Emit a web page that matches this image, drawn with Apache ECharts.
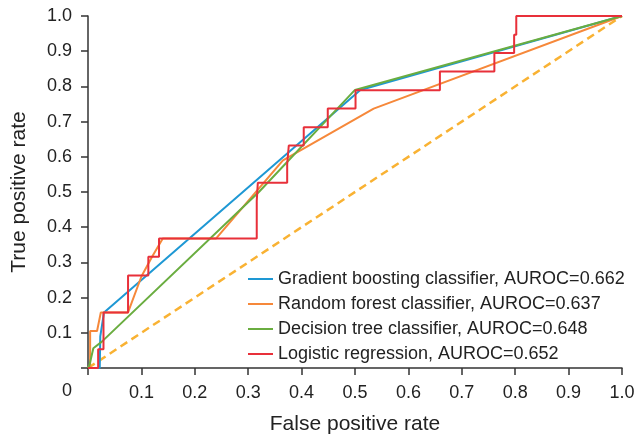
<!DOCTYPE html>
<html>
<head>
<meta charset="utf-8">
<script src="https://cdn.jsdelivr.net/npm/echarts@6/dist/echarts.min.js"></script>
<style>
html,body{margin:0;padding:0;background:#fff;}
#chart{width:635px;height:436px;}
</style>
</head>
<body>
<div id="chart"></div>
<script>
const seriesNames = [
  'Gradient boosting classifier, AUROC=0.662',
  'Random forest classifier, AUROC=0.637',
  'Decision tree classifier, AUROC=0.648',
  'Logistic regression, AUROC=0.652'
];
const seriesColors = ['#1e98d4', '#f6883a', '#6aad40', '#e8303a'];
const gbData = [[0,0],[0.022,0],[0.023,0.09],[0.03,0.158],[0.51,0.79],[1,1]];
const rfData = [[0,0],[0.004,0],[0.004,0.105],[0.017,0.105],[0.024,0.158],[0.075,0.158],[0.1,0.26],[0.12,0.316],[0.14,0.368],[0.24,0.368],[0.365,0.59],[0.535,0.737],[1,1]];
const dtData = [[0,0],[0.003,0.01],[0.01,0.056],[0.026,0.075],[0.32,0.5],[0.5,0.79],[1,1]];
const lrData = [[0,0],[0.019,0],[0.019,0.053],[0.029,0.053],[0.029,0.158],[0.075,0.158],[0.075,0.263],[0.113,0.263],[0.113,0.316],[0.133,0.316],[0.133,0.368],[0.316,0.368],[0.316,0.474],[0.318,0.474],[0.318,0.526],[0.373,0.526],[0.373,0.579],[0.376,0.579],[0.376,0.632],[0.404,0.632],[0.404,0.684],[0.449,0.684],[0.449,0.737],[0.501,0.737],[0.501,0.789],[0.659,0.789],[0.659,0.842],[0.761,0.842],[0.761,0.895],[0.798,0.895],[0.798,0.947],[0.802,0.947],[0.802,1],[1,1]];
const refData = [[0,0],[1,1]];
const xTitle = 'False positive rate';
const yTitle = 'True positive rate';

const chart = echarts.init(document.getElementById('chart'), null, {renderer:'canvas'});
const font = 'Liberation Sans, Arial, sans-serif';
const fmt = v => (v === 0 ? '' : (Math.abs(v-1) < 1e-9 ? '1.0' : v.toFixed(1)));
const axisCommon = {
  type: 'value', min: 0, max: 1, interval: 0.1,
  splitLine: {show:false},
  axisLine: {show:true, lineStyle:{color:'#333', width:1.5}},
  axisTick: {show:true, inside:false, length:7, lineStyle:{color:'#333', width:1.5}},
  nameTextStyle: {fontFamily:font, fontSize:21, color:'#222'}
};
const dataSets = [gbData, rfData, dtData, lrData];
const series = [{
  type:'line', name:'ref', data: refData, symbol:'none', silent:true,
  lineStyle:{color:'#f9b233', width:2.5, type:[8,5]}, z:1
}];
dataSets.forEach((d,i)=>{
  series.push({
    type:'line', name: seriesNames[i], data: d, symbol:'none',
    lineStyle:{color: seriesColors[i], width:2}, itemStyle:{color: seriesColors[i]}, z: 2+i
  });
});
chart.setOption({
  animation:false,
  backgroundColor:'#fff',
  grid:{left:88, right:13, top:16, bottom:68, containLabel:false, outerBoundsMode:'none'},
  xAxis: Object.assign({}, axisCommon, {
    name: xTitle, nameLocation:'middle', nameGap:46,
    axisLabel:{formatter: fmt, fontFamily:font, fontSize:18, color:'#222', margin:16}
  }),
  yAxis: Object.assign({}, axisCommon, {
    name: yTitle, nameLocation:'middle', nameGap:58,
    axisLabel:{formatter: fmt, fontFamily:font, fontSize:18, color:'#222', margin:16}
  }),
  legend:{
    data: seriesNames, orient:'vertical', left:243, top:265,
    icon:'rect', itemWidth:25, itemHeight:2, itemGap:7,
    textStyle:{fontFamily:font, fontSize:18, color:'#222', lineHeight:18}
  },
  graphic:[{type:'text', left:62, top:382, style:{text:'0', font:'18px Liberation Sans, Arial, sans-serif', fill:'#222'}}],
  series: series
});
</script>
</body>
</html>
